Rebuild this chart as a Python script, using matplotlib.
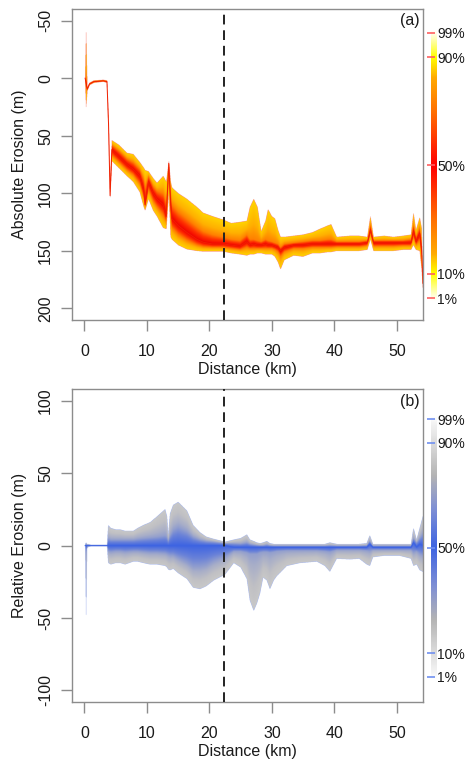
import numpy as np
import matplotlib
matplotlib.use("Agg")
import matplotlib.pyplot as plt
from matplotlib.colors import LinearSegmentedColormap

plt.rcParams['font.family'] = ['Liberation Sans', 'DejaVu Sans']

# ---------------- Panel (a): absolute erosion fan (quantiles) ----------------
dist_a = [0.1, 0.25, 0.45, 0.8, 1.5, 3.0, 3.6, 3.85, 4.1, 4.38, 5.5, 6.8, 7.8, 8.85,
          9.5, 9.7, 10.25, 11.0, 11.6, 12.6, 13.1, 13.5, 13.8, 14.0, 15.0, 16.4, 18.0,
          19.0, 20.5, 22.2, 23.5, 24.9, 26.0, 26.5, 27.1, 27.7, 28.3, 29.0, 29.4, 30.0,
          30.5, 31.0, 31.4, 32.0, 33.5, 35.0, 36.5, 37.7, 39.0, 39.5, 40.4, 42.5, 44.0,
          45.3, 45.8, 46.3, 48.0, 49.5, 51.0, 52.3, 52.7, 53.1, 53.7, 54.0, 54.2]
med_a = [0, 4, 9.5, 5, 3, 2.3, 3, 40, 102, 62, 68, 75, 79, 85,
         98, 110, 90, 100, 105, 110, 120, 74, 110, 122, 128, 134, 140,
         142.5, 144, 144, 145, 146, 142, 145, 144, 145, 145, 144, 145, 145,
         146, 147, 150, 147, 145, 145, 144, 144, 144, 144, 144, 144, 144,
         143, 132, 143, 143, 143, 143, 143, 133, 142, 135, 150, 178]
q_hi_a = [-3, -40, 8, 4, 2, 1.5, 2, 35, 95, 54, 58, 65, 66, 73,
          78, 80, 81, 87, 91, 85, 90, 72, 90, 95, 100, 105, 112,
          117, 120, 123, 126, 125, 124, 112, 105, 112, 133, 124, 114, 120,
          122, 132, 138, 138, 137, 136, 134, 131, 128, 127, 138, 137, 137,
          138, 120, 138, 137, 138, 137, 136, 117, 132, 121, 130, 170]
q_hi_in_a = [-1, 0, 9, 4.5, 2.6, 2, 2.6, 38, 100, 58, 63, 70, 73, 79,
             88, 95, 85, 94, 98, 100, 108, 73, 100, 110, 116, 122, 129,
             133, 136, 138, 140, 141, 136, 140, 140, 141, 142, 140, 141, 142,
             143, 144, 147, 144, 143, 142, 141, 141, 140, 140, 142, 142, 142,
             141, 127, 141, 141, 141, 141, 140, 127, 138, 130, 142, 175]
q_lo_in_a = [1, 8, 10, 5.5, 3.4, 2.6, 3.4, 42, 103, 67, 73, 80, 84, 92,
             104, 112, 97, 107, 112, 119, 125, 82, 122, 130, 136, 141, 145,
             146.5, 147, 147, 148, 149, 147, 148, 148, 148, 148, 148, 148, 148,
             149, 151, 155, 151, 148, 148, 147, 147, 147, 147, 146.5, 146.5, 146.5,
             145.5, 135, 146, 146, 146, 145.5, 145.5, 138, 145, 141, 156, 180]
q_lo_a = [3, 25, 11, 6, 4, 3, 4, 45, 104, 72, 78, 85, 90, 99,
          112, 115, 105, 115, 120, 130, 131, 100, 138, 140, 145, 148.6, 150,
          150.5, 150.5, 150.5, 152, 153, 154, 153, 153, 152, 152, 153, 153, 153,
          155, 160, 166, 158, 154, 155, 152, 152, 151, 151, 150, 150, 150,
          149, 140, 150, 150, 150, 149, 149, 145, 149, 150, 165, 182]

# ---------------- Panel (b): relative erosion fan (quantiles) ----------------
dist_b = [0.1, 0.25, 0.4, 0.6, 1.0, 3.6, 3.8, 4.2, 5.0, 5.7, 6.5, 7.8, 8.5, 9.4,
          10.5, 11.6, 12.9, 13.2, 13.4, 13.7, 14.2, 15.0, 16.4, 17.4, 18.5, 19.5,
          20.7, 22.5, 23.9, 25.0, 26.0, 26.5, 27.1, 27.6, 28.1, 28.6, 29.2, 29.7,
          30.3, 30.8, 32.4, 34.5, 37.2, 38.5, 39.3, 40.4, 42.5, 44.0, 45.2, 45.7,
          46.2, 47.9, 50.5, 52.3, 52.7, 53.2, 53.7, 54.2]
med_b = [0, 0, 0, 0, 0, 0, 0, 0, 0, 0, 0, 0, 0, 0,
         0, 0, 0, 0, 0, 0, 0, 0, 0, 0, 0, 0,
         0, 0, -1.2, -1.2, -1.2, -1.2, -1.2, -1.2, -1.2, -1.2, -1.2, -1.2,
         -1.2, -1.2, -1.2, -1.2, -1.2, -1.2, -1.2, -1.2, -1.2, -1.2, -1.2, 1,
         -1.2, -1.2, -1.2, -1.2, 2, -1, 1, 0]
q_hi_b = [1, 2, 1, 1, 0.5, 0.5, 14, 12, 11, 11, 10, 10, 12, 14,
          16, 20, 25, 20, 7, 22, 28, 30, 24, 14, 9, 6,
          4.5, 2.5, 4, 5, 7.5, 4, 3, 2, 1.5, 2, 3, 1.5,
          1, 1, 1, 1, 1, 1, 2, 1, 1, 1, 1.5, 7,
          1, 1, 1, 1, 12, 4, 12, 20]
q_hi_in_b = [0.5, 1, 0.5, 0.5, 0.3, 0.3, 5, 4, 4, 4, 4, 4, 4.5, 5,
             5.5, 6, 7, 6, 3, 7, 11, 13, 10, 6, 4, 3,
             2.5, 1.5, 1.5, 1.2, 2, 1, 0.5, 0.2, 0, 0, 0.5, 0,
             -0.2, -0.2, -0.2, -0.2, -0.2, -0.2, 0, -0.2, -0.2, -0.2, 0, 3,
             -0.2, -0.2, -0.2, -0.2, 5, 2, 5, 8]
q_lo_in_b = [-0.5, -5, -1, -0.5, -0.3, -0.3, -4, -4.5, -4, -4, -4.5, -4, -4, -4.5,
             -5, -5, -5.5, -6, -6.5, -7, -7, -9, -12, -15, -15, -14,
             -11, -8, -4, -4, -5, -6, -6, -6, -5, -4.5, -4.5, -5,
             -4.5, -4, -3.5, -3.5, -3.5, -4, -4.5, -3, -3, -3, -3.5, -4,
             -3, -3, -3, -3, -5, -4, -6, -7]
q_lo_b = [-1, -48, -2, -1, -0.5, -0.5, -12, -13, -12, -12, -13, -11, -11, -12,
          -13, -13, -14, -15, -16.5, -17, -16, -19, -23, -29, -30, -28,
          -24, -20, -12, -15, -23, -38, -45, -40, -33, -22, -24, -30,
          -24, -21, -14, -12, -11, -14, -18, -9, -9.5, -9, -13, -14,
          -8, -7, -7, -9, -14, -13, -17, -18]

split_km = 22.4
pct_ticks = [1, 10, 50, 90, 99]
pct_labels = ['1%', '10%', '50%', '90%', '99%']
xticks = [0, 10, 20, 30, 40, 50]
yticks_a = [-50, 0, 50, 100, 150, 200]
yticks_b = [-100, -50, 0, 50, 100]

cmap_a = LinearSegmentedColormap.from_list(
    'fan_a', [(0, '#F00000'), (0.25, '#FF3000'), (0.5, '#FF8000'), (0.7, '#FFB000'),
              (0.9, '#FFC800'), (1, '#FFD400')])
cmap_b = LinearSegmentedColormap.from_list(
    'fan_b', [(0, '#3E64E2'), (0.3, '#6A82D8'), (0.6, '#A8AEC8'), (0.8, '#C0C0C4'),
              (1, '#C8C8C8')])
bar_a = LinearSegmentedColormap.from_list(
    'bar_a', [(0, '#FF0000'), (0.4, '#FF7000'), (0.65, '#FFAA00'), (0.8, '#FFFF00'),
              (0.95, '#FFFFC8'), (1, '#FFFFFF')])
bar_b = LinearSegmentedColormap.from_list(
    'bar_b', [(0, '#3E64E2'), (0.3, '#8090D4'), (0.55, '#B4B4B4'), (0.8, '#DCDCDC'),
              (0.95, '#F4F4F4'), (1, '#FFFFFF')])


def fan_image(ax, x, med, hi_in, hi, lo_in, lo, cmap, xlim, ylim, nx=1400, ny=1400):
    x = np.asarray(x, float)
    xf = np.linspace(xlim[0], xlim[1], nx)
    yf = np.linspace(ylim[0], ylim[1], ny)
    inside = (xf >= x[0]) & (xf <= x[-1])
    M = np.interp(xf, x, med)[None, :]
    Y = yf[:, None]
    t = np.full((ny, nx), np.nan)
    for inner, outer in ((hi_in, hi), (lo_in, lo)):
        I = np.interp(xf, x, inner)[None, :]
        O = np.interp(xf, x, outer)[None, :]
        s = np.sign(O - M)
        s[s == 0] = 1
        u = (Y - M) * s
        di = np.maximum((I - M) * s, 1e-6)
        do = np.maximum((O - M) * s, di + 1e-6)
        m1 = (u >= 0) & (u <= di)
        m2 = (u > di) & (u <= do)
        t = np.where(m1, 0.5 * u / di, t)
        t = np.where(m2, 0.5 + 0.5 * (u - di) / (do - di), t)
    t[:, ~inside] = np.nan
    rgba = cmap(np.nan_to_num(t, nan=0.0))
    rgba[..., 3] = np.where(np.isnan(t), 0.0, 1.0)
    ax.imshow(rgba, extent=[xlim[0], xlim[1], ylim[0], ylim[1]], origin='lower',
              aspect='auto', interpolation='antialiased', zorder=1)


def style_axes(ax, yticks, ylabel, tag):
    for sp in ax.spines.values():
        sp.set_color('#8c8c8c')
        sp.set_linewidth(1.0)
    ax.set_xticks(xticks)
    ax.set_yticks(yticks)
    ax.set_yticklabels([str(v) for v in yticks], rotation=90, va='center')
    ax.tick_params(axis='both', direction='out', length=8, width=1.0,
                   color='#8c8c8c', labelsize=11.5, labelcolor='#1a1a1a')
    ax.tick_params(axis='x', pad=9)
    ax.tick_params(axis='y', pad=5.5)
    ax.set_xlabel('Distance (km)', fontsize=11.5, color='#1a1a1a')
    ax.xaxis.set_label_coords(0.5, -0.135)
    ax.set_ylabel(ylabel, fontsize=11.5, color='#1a1a1a')
    ax.yaxis.set_label_coords(-0.128, 0.5)
    ax.text(0.99, 0.962, tag, transform=ax.transAxes, ha='right', va='center',
            fontsize=11.5, color='#1a1a1a')
    ax.axvline(split_km, color='#222222', lw=1.4, ls=(0, (5, 3)), zorder=3)


def colour_bar(fig, rect, cmap, tick_color):
    cax = fig.add_axes(rect)
    p = np.linspace(0, 100, 501)
    d = np.abs(p - 50) / 50.0
    img = cmap(d)[:, None, :]
    cax.imshow(img, extent=[0, 1, 0, 100], origin='lower', aspect='auto')
    cax.set_xlim(0, 1)
    cax.set_ylim(0, 100)
    for sp in cax.spines.values():
        sp.set_visible(False)
    cax.set_xticks([])
    cax.set_yticks(pct_ticks)
    cax.set_yticklabels(pct_labels)
    cax.tick_params(axis='y', left=True, right=False, labelleft=False, labelright=True,
                    direction='inout', length=6, width=1.2, color=tick_color,
                    labelsize=10, labelcolor='#1a1a1a', pad=-2.5)


fig = plt.figure(figsize=(4.66, 7.60), dpi=100)

# Panel (a)
xlim = (-2.0, 54.2)
ylim_a = (210, -60)
ax1 = fig.add_axes([0.1545, 0.579, 0.7532, 0.409])
fan_image(ax1, dist_a, med_a, q_hi_in_a, q_hi_a, q_lo_in_a, q_lo_a, cmap_a,
          xlim, (-60, 210))
ax1.plot(dist_a, med_a, color='#F02000', lw=0.7, zorder=2)
ax1.set_xlim(*xlim)
ax1.set_ylim(*ylim_a)
style_axes(ax1, yticks_a, 'Absolute Erosion (m)', '(a)')
colour_bar(fig, [0.9245, 0.604, 0.0125, 0.3565], bar_a, '#FF6060')

# Panel (b)
ylim_b = (-108, 108)
ax2 = fig.add_axes([0.1545, 0.0763, 0.7532, 0.4115])
fan_image(ax2, dist_b, med_b, q_hi_in_b, q_hi_b, q_lo_in_b, q_lo_b, cmap_b,
          xlim, ylim_b)
ax2.plot(dist_b, med_b, color='#3E64E2', lw=0.7, zorder=2)
ax2.set_xlim(*xlim)
ax2.set_ylim(*ylim_b)
style_axes(ax2, yticks_b, 'Relative Erosion (m)', '(b)')
colour_bar(fig, [0.9245, 0.1062, 0.0125, 0.3456], bar_b, '#7090F0')

fig.savefig('out.png', dpi=100)
